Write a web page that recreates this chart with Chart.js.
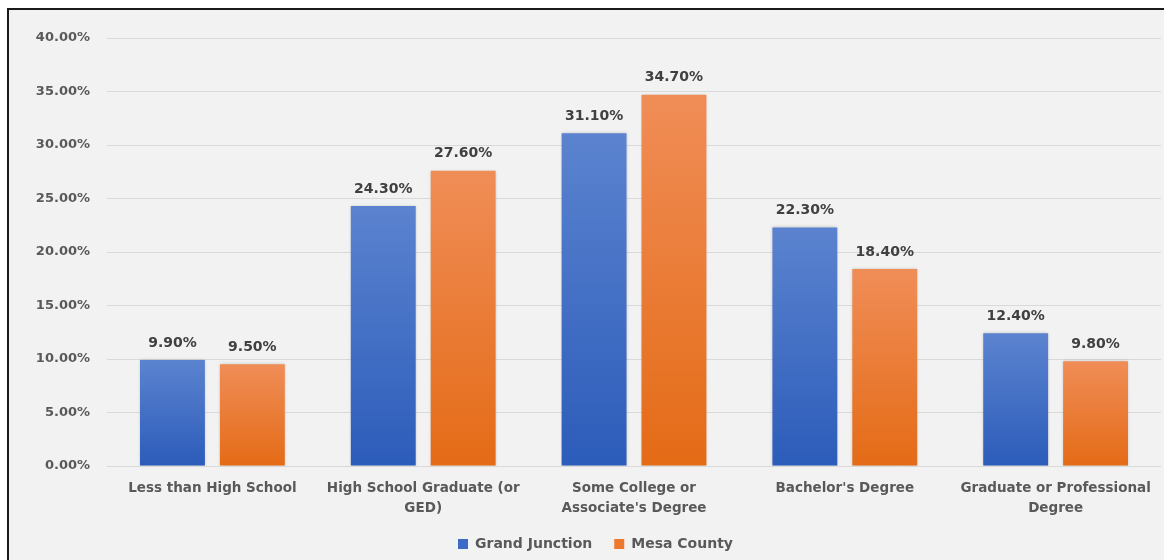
<!DOCTYPE html>
<html>
<head>
<meta charset="utf-8">
<script src="https://cdn.jsdelivr.net/npm/chart.js@4.4.1/dist/chart.umd.min.js"></script>
<style>
  html, body { margin: 0; padding: 0; background: #ffffff; }
  #frame { position: absolute; left: 7px; top: 8px; width: 1157px; height: 552px;
           border-left: 2px solid #1a1a1a; border-top: 2px solid #1a1a1a; background: #f2f2f2; box-sizing: border-box; }
  #wrap { position: absolute; left: 0; top: 0; width: 1155px; height: 550px; }
</style>
</head>
<body>
<div id="frame"><div id="wrap"><canvas id="c" width="1155" height="550"></canvas></div></div>
<script>
const categories = [
  "Less than High School",
  ["High School Graduate (or", "GED)"],
  ["Some College or", "Associate's Degree"],
  "Bachelor's Degree",
  ["Graduate or Professional", "Degree"]
];
const grandJunction = [9.9, 24.3, 31.1, 22.3, 12.4];
const mesaCounty = [9.5, 27.6, 34.7, 18.4, 9.8];
const seriesNames = ["Grand Junction", "Mesa County"];
const yTicks = [0, 5, 10, 15, 20, 25, 30, 35, 40];

const FONT = "'DejaVu Sans', sans-serif";

function barGradient(top, bottom) {
  return function (ctx) {
    const chart = ctx.chart;
    if (ctx.type !== 'data' || !chart.chartArea || !chart.scales.y) return bottom;
    const y = chart.scales.y;
    const y0 = y.getPixelForValue(ctx.raw);
    const y1 = y.getPixelForValue(0);
    if (!isFinite(y0) || !isFinite(y1) || y0 === y1) return bottom;
    const g = chart.ctx.createLinearGradient(0, y0, 0, y1);
    g.addColorStop(0, top);
    g.addColorStop(1, bottom);
    return g;
  };
}

const shadowPlugin = {
  id: 'barShadow',
  beforeDatasetDraw(chart) {
    const c = chart.ctx;
    c.save();
    c.shadowColor = 'rgba(0,0,0,0.2)';
    c.shadowBlur = 3;
    c.shadowOffsetX = 0;
    c.shadowOffsetY = 0;
  },
  afterDatasetDraw(chart) { chart.ctx.restore(); }
};

const labelPlugin = {
  id: 'valueLabels',
  afterDatasetsDraw(chart) {
    const c = chart.ctx;
    c.save();
    c.font = "bold 14px " + FONT;
    c.fillStyle = '#404040';
    c.textAlign = 'center';
    c.textBaseline = 'bottom';
    chart.data.datasets.forEach((ds, i) => {
      const meta = chart.getDatasetMeta(i);
      meta.data.forEach((bar, j) => {
        c.fillText(ds.data[j].toFixed(2) + '%', bar.x, bar.y - 10);
      });
    });
    c.restore();
  }
};

new Chart(document.getElementById('c'), {
  type: 'bar',
  data: {
    labels: categories,
    datasets: [
      { label: seriesNames[0], data: grandJunction,
        backgroundColor: barGradient('#5b83cf', '#2c5cba'), borderWidth: 0 },
      { label: seriesNames[1], data: mesaCounty,
        backgroundColor: barGradient('#f08d57', '#e46b16'), borderWidth: 0 }
    ]
  },
  options: {
    responsive: false,
    animation: false,
    devicePixelRatio: 1,
    layout: { padding: { left: 20, right: 2, top: 28, bottom: -1 } },
    datasets: { bar: { categoryPercentage: 0.758, barPercentage: 0.8125 } },
    scales: {
      x: {
        grid: { display: false, drawTicks: false },
        border: { display: false },
        ticks: { color: '#595959', font: { family: FONT, size: 13.5, weight: 'bold', lineHeight: 1.45 }, padding: 13, maxRotation: 0, autoSkip: false },
        afterFit(s) { s.height = 49; }
      },
      y: {
        min: 0, max: 40,
        afterBuildTicks(s) { s.ticks = yTicks.map(v => ({ value: v })); },
        grid: { color: '#d9d9d9', lineWidth: 1, drawTicks: false },
        border: { display: false },
        ticks: { color: '#595959', font: { family: FONT, size: 13, weight: 'bold' }, padding: 17,
                 callback: v => v.toFixed(2) + '%' },
        afterFit(s) { s.width = 78; }
      }
    },
    plugins: {
      legend: {
        position: 'bottom',
        labels: {
          boxWidth: 10, boxHeight: 10, padding: 22,
          color: '#595959', font: { family: FONT, size: 14, weight: 'bold' },
          generateLabels(chart) {
            const cols = ['#3a6bc6', '#ed7a2c'];
            return chart.data.datasets.map((ds, i) => ({
              text: ds.label, fillStyle: cols[i], strokeStyle: cols[i], lineWidth: 0,
              fontColor: '#595959', datasetIndex: i, hidden: false
            }));
          }
        }
      },
      tooltip: { enabled: false }
    }
  },
  plugins: [shadowPlugin, labelPlugin]
});
</script>
</body>
</html>
